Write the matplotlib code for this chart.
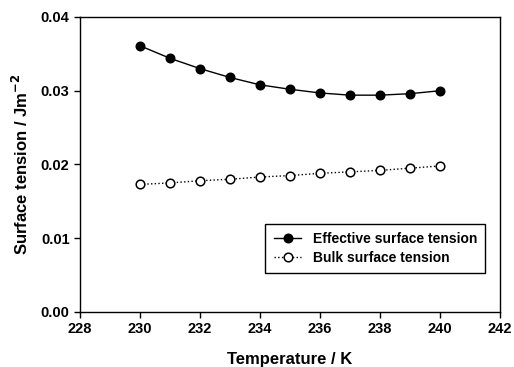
import matplotlib
matplotlib.use("Agg")
import matplotlib.pyplot as plt
from matplotlib.ticker import FormatStrFormatter

plt.rcParams['font.family'] = ['Liberation Sans', 'DejaVu Sans']
plt.rcParams['font.weight'] = 'bold'

temperature = [230, 231, 232, 233, 234, 235, 236, 237, 238, 239, 240]
effective = [0.0361, 0.0344, 0.0330, 0.0318, 0.0308, 0.0302, 0.0297, 0.0294, 0.0294, 0.0296, 0.0300]
bulk = [0.0173, 0.0175, 0.0178, 0.0180, 0.0183, 0.0185, 0.0188, 0.0190, 0.0192, 0.0195, 0.0198]

fig = plt.figure(figsize=(5.14, 3.67), dpi=100)
ax = fig.add_axes([0.1556, 0.1499, 0.8171, 0.8038])

ax.plot(temperature, effective, '-', color='black', lw=1.0, marker='o',
        markersize=6.2, markerfacecolor='black', markeredgecolor='black',
        label='Effective surface tension')
ax.plot(temperature, bulk, ':', color='black', lw=1.0, marker='o',
        markersize=6.2, markerfacecolor='white', markeredgecolor='black',
        markeredgewidth=1.1, label='Bulk surface tension')

ax.set_xlim(228, 242)
ax.set_ylim(0, 0.04)
ax.set_xticks([228, 230, 232, 234, 236, 238, 240, 242])
ax.set_yticks([0.00, 0.01, 0.02, 0.03, 0.04])
ax.yaxis.set_major_formatter(FormatStrFormatter('%.2f'))
ax.tick_params(direction='out', length=4, width=1, labelsize=10.5)
for lab in ax.get_xticklabels() + ax.get_yticklabels():
    lab.set_fontweight('bold')
for s in ax.spines.values():
    s.set_linewidth(1.0)

ax.set_xlabel('Temperature / K', fontsize=12, fontweight='bold', labelpad=11)
ax.set_ylabel('Surface tension / Jm$^{\\mathbf{-2}}$', fontsize=12, fontweight='bold', labelpad=7)

leg = ax.legend(loc='lower right', bbox_to_anchor=(0.965, 0.132), borderaxespad=0,
                fontsize=10, frameon=True, fancybox=False, edgecolor='black', framealpha=1,
                handlelength=2.0, borderpad=0.6, labelspacing=0.35, handletextpad=0.8)
leg.get_frame().set_linewidth(1.0)
for t in leg.get_texts():
    t.set_fontweight('bold')

fig.savefig('out.png', dpi=100)
